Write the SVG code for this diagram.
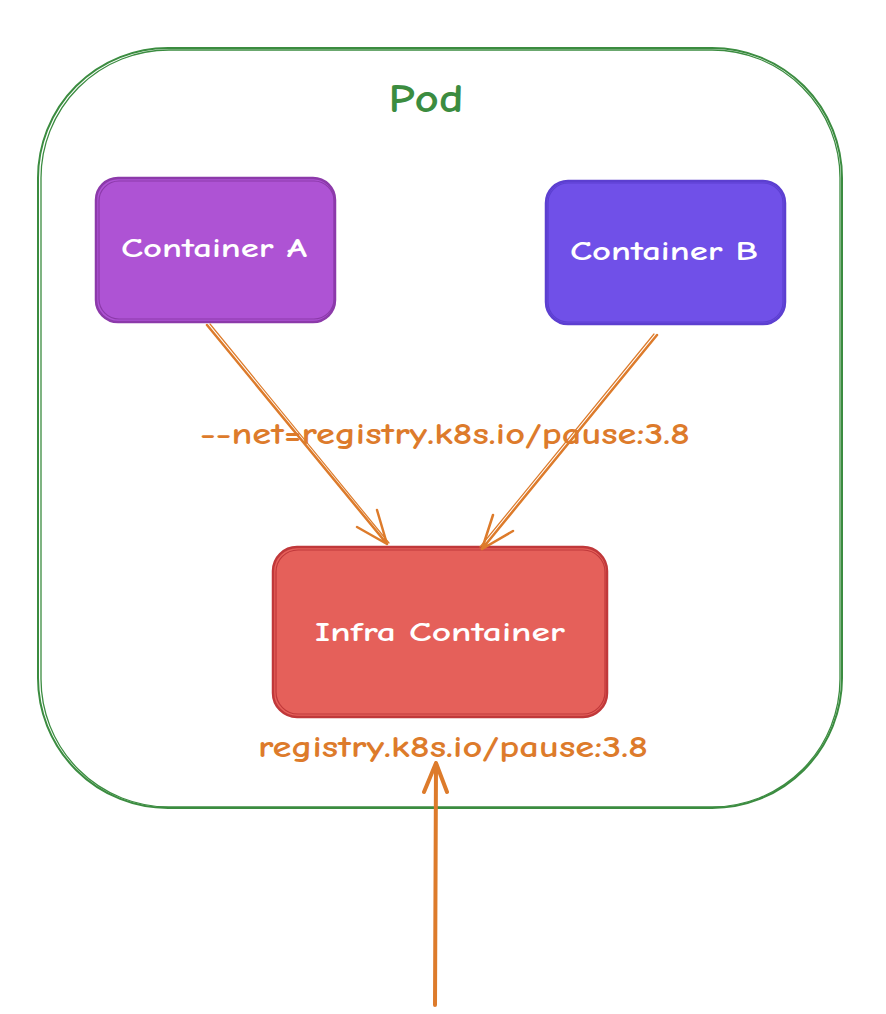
<svg xmlns="http://www.w3.org/2000/svg" width="886" height="1014" viewBox="0 0 886 1014">
<style>
.lbl{font-family:"Comic Neue","Liberation Sans","DejaVu Sans",sans-serif;font-weight:bold}
.white{fill:#ffffff;font-size:27px}
.orange{fill:#dd7b2b;font-size:31px}
.conn{stroke:#dd7b2b;fill:none;stroke-linecap:round;stroke-linejoin:round}
</style>
<rect width="886" height="1014" fill="#ffffff"/>
<g id="pod">
  <rect x="38" y="48" width="804" height="760" rx="130" ry="130" fill="none" stroke="#3b8c40" stroke-width="2"/>
  <rect x="41" y="50" width="799" height="757" rx="128" ry="128" fill="none" stroke="#3b8c40" stroke-width="1.3"/>
  <text class="lbl" x="426" y="112" text-anchor="middle" fill="#3b8c40" font-size="40" textLength="75" lengthAdjust="spacingAndGlyphs">Pod</text>
</g>
<g id="containerA">
  <rect x="96" y="178" width="239" height="144" rx="22" ry="22" fill="#ae53d4" stroke="#8c3aaa" stroke-width="2.5"/>
  <rect x="99" y="181" width="235" height="138" rx="20" ry="20" fill="none" stroke="#8c3aaa" stroke-width="1.2"/>
  <text class="lbl white" x="214" y="257" text-anchor="middle" textLength="186" lengthAdjust="spacingAndGlyphs">Container A</text>
</g>
<g id="containerB">
  <rect x="546" y="181" width="239" height="143" rx="22" ry="22" fill="#7050e8" stroke="#5c3fd0" stroke-width="2.5"/>
  <rect x="548" y="183" width="235" height="139" rx="20" ry="20" fill="none" stroke="#5c3fd0" stroke-width="1.2"/>
  <text class="lbl white" x="664" y="260" text-anchor="middle" textLength="188" lengthAdjust="spacingAndGlyphs">Container B</text>
</g>
<g id="infra">
  <rect x="273" y="547" width="334" height="170" rx="24" ry="24" fill="#e5605a" stroke="#c0383a" stroke-width="2.5"/>
  <rect x="276" y="550" width="329" height="164" rx="22" ry="22" fill="none" stroke="#c0383a" stroke-width="1.2"/>
  <text class="lbl white" x="440" y="641" text-anchor="middle" textLength="250" lengthAdjust="spacingAndGlyphs">Infra Container</text>
</g>
<g id="connectors">
  <path class="conn" style="stroke-width:2.5" d="M207 325 L387 544 M357 527 L387 544 L377 510"/>
  <path class="conn" style="stroke-width:1.2" d="M210 324 L389 543"/>
  <path class="conn" style="stroke-width:2.5" d="M657 335 L482 549 M493 515 L482 549 L513 531"/>
  <path class="conn" style="stroke-width:1.2" d="M654 334 L480 547"/>
  <path class="conn" style="stroke-width:4" d="M435 1005 L436 763 M424 792 L436 763 L447 792"/>
  <text class="lbl orange" x="445" y="444" text-anchor="middle" textLength="490" lengthAdjust="spacingAndGlyphs">--net=registry.k8s.io/pause:3.8</text>
  <text class="lbl orange" x="453" y="757" text-anchor="middle" textLength="390" lengthAdjust="spacingAndGlyphs">registry.k8s.io/pause:3.8</text>
</g>
</svg>
